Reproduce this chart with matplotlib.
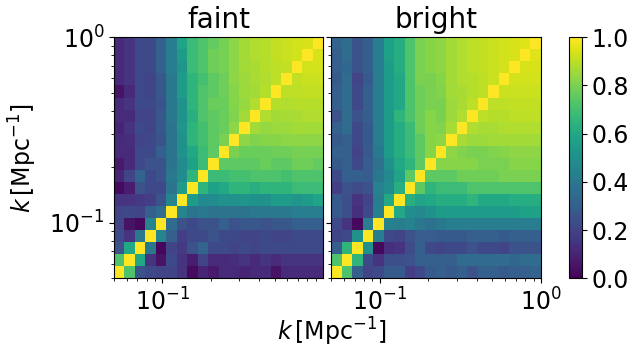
import numpy as np
import matplotlib
matplotlib.use('Agg')
import matplotlib.pyplot as plt

# k bins (20 log-spaced bins between 0.05 and 1 Mpc^-1)
k_min = 0.05
k_max = 1.0
n_bins = 20

# upper triangle of the correlation matrices, row r holds columns r+1..19
faint_upper = [
    [0.72, 0.25, 0.22, 0.20, 0.20, 0.15, 0.03, 0.10, 0.07, 0.12, 0.12, 0.10, 0.12, 0.12, 0.05, 0.12, 0.12, 0.12, 0.12],
    [0.60, 0.15, 0.05, 0.22, 0.15, 0.08, 0.20, 0.12, 0.12, 0.13, 0.15, 0.12, 0.15, 0.12, 0.15, 0.15, 0.15, 0.15],
    [0.40, 0.02, 0.20, 0.17, 0.25, 0.32, 0.22, 0.22, 0.20, 0.22, 0.20, 0.22, 0.22, 0.22, 0.22, 0.22, 0.22],
    [0.45, 0.30, 0.18, 0.22, 0.22, 0.25, 0.22, 0.22, 0.20, 0.20, 0.22, 0.20, 0.20, 0.22, 0.22, 0.22],
    [0.35, 0.25, 0.22, 0.25, 0.25, 0.30, 0.25, 0.27, 0.27, 0.25, 0.27, 0.27, 0.30, 0.30, 0.30],
    [0.45, 0.38, 0.40, 0.38, 0.38, 0.38, 0.38, 0.40, 0.40, 0.40, 0.40, 0.42, 0.42, 0.42],
    [0.55, 0.48, 0.48, 0.50, 0.50, 0.52, 0.50, 0.50, 0.55, 0.55, 0.52, 0.55, 0.58],
    [0.65, 0.57, 0.60, 0.65, 0.65, 0.63, 0.65, 0.65, 0.65, 0.68, 0.68, 0.68],
    [0.68, 0.68, 0.70, 0.70, 0.72, 0.72, 0.72, 0.70, 0.72, 0.72, 0.72],
    [0.75, 0.75, 0.75, 0.75, 0.77, 0.75, 0.75, 0.78, 0.78, 0.76],
    [0.80, 0.77, 0.77, 0.77, 0.78, 0.78, 0.79, 0.79, 0.79],
    [0.83, 0.81, 0.82, 0.82, 0.83, 0.83, 0.83, 0.83],
    [0.86, 0.84, 0.85, 0.85, 0.86, 0.86, 0.86],
    [0.88, 0.86, 0.87, 0.87, 0.88, 0.88],
    [0.89, 0.88, 0.89, 0.89, 0.89],
    [0.90, 0.90, 0.91, 0.91],
    [0.91, 0.92, 0.92],
    [0.93, 0.93],
    [0.94],
]

bright_upper = [
    [0.72, 0.30, 0.20, 0.22, 0.28, 0.28, 0.18, 0.22, 0.28, 0.30, 0.28, 0.30, 0.25, 0.30, 0.30, 0.28, 0.30, 0.30, 0.32],
    [0.65, 0.22, 0.15, 0.24, 0.24, 0.25, 0.30, 0.30, 0.30, 0.30, 0.35, 0.35, 0.35, 0.35, 0.35, 0.33, 0.35, 0.35],
    [0.50, 0.02, 0.14, 0.15, 0.23, 0.30, 0.22, 0.20, 0.22, 0.22, 0.25, 0.22, 0.22, 0.20, 0.25, 0.25, 0.25],
    [0.42, 0.22, 0.20, 0.25, 0.29, 0.29, 0.28, 0.28, 0.28, 0.30, 0.30, 0.30, 0.28, 0.30, 0.30, 0.30],
    [0.43, 0.42, 0.44, 0.40, 0.37, 0.40, 0.42, 0.42, 0.42, 0.42, 0.42, 0.42, 0.42, 0.42, 0.42],
    [0.60, 0.49, 0.47, 0.50, 0.55, 0.55, 0.55, 0.55, 0.55, 0.55, 0.55, 0.55, 0.57, 0.57],
    [0.63, 0.58, 0.60, 0.62, 0.62, 0.62, 0.65, 0.60, 0.60, 0.60, 0.62, 0.62, 0.62],
    [0.75, 0.65, 0.68, 0.68, 0.68, 0.72, 0.72, 0.72, 0.72, 0.72, 0.72, 0.72],
    [0.75, 0.75, 0.75, 0.78, 0.78, 0.78, 0.78, 0.80, 0.80, 0.80, 0.80],
    [0.82, 0.82, 0.82, 0.82, 0.80, 0.80, 0.80, 0.82, 0.82, 0.82],
    [0.83, 0.81, 0.80, 0.80, 0.81, 0.82, 0.83, 0.83, 0.83],
    [0.87, 0.85, 0.85, 0.86, 0.86, 0.86, 0.86, 0.86],
    [0.88, 0.87, 0.87, 0.88, 0.88, 0.88, 0.88],
    [0.90, 0.89, 0.89, 0.90, 0.90, 0.90],
    [0.90, 0.90, 0.91, 0.91, 0.91],
    [0.92, 0.92, 0.92, 0.92],
    [0.93, 0.93, 0.93],
    [0.94, 0.94],
    [0.95],
]

titles = ['faint', 'bright']


def full_matrix(upper):
    m = np.eye(n_bins)
    for r, row in enumerate(upper):
        for j, v in enumerate(row):
            c = r + 1 + j
            m[r, c] = v
            m[c, r] = v
    return m


k_edges = np.logspace(np.log10(k_min), np.log10(k_max), n_bins + 1)

fig = plt.figure(figsize=(6.37, 3.55), dpi=100)
ax1 = fig.add_axes([114 / 637, 0.216, 209 / 637, 0.679])
ax2 = fig.add_axes([331 / 637, 0.216, 210 / 637, 0.679], sharey=ax1)
cax = fig.add_axes([569 / 637, 0.216, 13 / 637, 0.679])

fs = 17
for ax, upper, title in zip([ax1, ax2], [faint_upper, bright_upper], titles):
    mesh = ax.pcolormesh(k_edges, k_edges, full_matrix(upper), cmap='viridis', vmin=0, vmax=1)
    ax.set_xscale('log')
    ax.set_yscale('log')
    ax.set_xlim(k_min, k_max)
    ax.set_ylim(k_min, k_max)
    ax.set_title(title, fontsize=20, pad=7)
    ax.tick_params(labelsize=fs)

ax1.set_xticks([0.1])
ax1.set_xlim(k_min, k_max)
plt.setp(ax2.get_yticklabels(), visible=False)

ax1.set_ylabel(r'$k\,[\mathrm{Mpc}^{-1}]$', fontsize=fs)
ax1.yaxis.set_label_coords(-0.36, 0.5)
fig.text(332 / 637, 0.02, r'$k\,[\mathrm{Mpc}^{-1}]$', fontsize=fs, ha='center', va='bottom')

cb = fig.colorbar(mesh, cax=cax)
cb.set_ticks([0.0, 0.2, 0.4, 0.6, 0.8, 1.0])
cb.ax.tick_params(labelsize=fs)

fig.savefig('out.png', dpi=100)
